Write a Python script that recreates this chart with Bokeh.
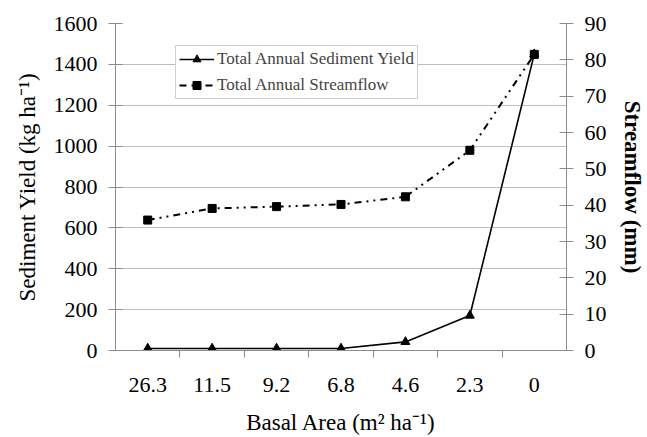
from bokeh.plotting import figure
from bokeh.models import (Range1d, LinearAxis, SingleIntervalTicker, FixedTicker,
                          Legend, LegendItem, ColumnDataSource)
from bokeh.embed import file_html
from bokeh.resources import INLINE

# ---- data ----
basal_area = ["26.3", "11.5", "9.2", "6.8", "4.6", "2.3", "0"]
sediment_yield = [10, 10, 10, 10, 42, 171, 1450]          # kg ha-1
streamflow = [35.9, 39.1, 39.6, 40.2, 42.3, 55.1, 81.5]   # mm

xpos = [i + 0.5 for i in range(len(basal_area))]
src = ColumnDataSource(dict(x=xpos, sed=sediment_yield, sf=streamflow))

FONT = "Liberation Serif"
GRAY = "#8c8c8c"

p = figure(width=647, height=437, output_backend="svg", toolbar_location=None,
           x_range=Range1d(0, len(basal_area)), y_range=Range1d(0, 1600),
           min_border_left=115, min_border_right=76, min_border_top=23,
           min_border_bottom=87, outline_line_color=None)
p.extra_y_ranges = {"sf": Range1d(0, 90)}

# x axis: labels at category centers, ticks at boundaries
p.xaxis.ticker = FixedTicker(ticks=xpos, minor_ticks=list(range(1, len(basal_area))))
p.xaxis.major_label_overrides = {x: lab for x, lab in zip(xpos, basal_area)}
p.xaxis.major_tick_line_color = None
p.xaxis.major_tick_in = 0
p.xaxis.major_tick_out = 7
p.xaxis.minor_tick_line_color = GRAY
p.xaxis.minor_tick_in = 0
p.xaxis.minor_tick_out = 7
p.xaxis.axis_line_color = GRAY
p.xaxis.axis_label = "Basal Area (m\u00b2 ha\u207b\u00b9)"
p.xaxis.major_label_standoff = 20
p.xaxis.axis_label_standoff = 15

# left axis
p.yaxis.ticker = SingleIntervalTicker(interval=200)
p.yaxis.axis_label = "Sediment Yield (kg ha\u207b\u00b9)"
p.yaxis.axis_line_color = GRAY
p.yaxis.major_tick_line_color = GRAY
p.yaxis.major_tick_in = 7
p.yaxis.major_tick_out = 7
p.yaxis.minor_tick_line_color = None
p.yaxis.major_label_standoff = 11
p.yaxis.axis_label_standoff = 11

# right axis
ra = LinearAxis(y_range_name="sf", ticker=SingleIntervalTicker(interval=10),
                axis_label="Streamflow (mm)")
ra.axis_line_color = GRAY
ra.major_tick_line_color = GRAY
ra.major_tick_in = 7
ra.major_tick_out = 7
ra.minor_tick_line_color = None
ra.major_label_standoff = 11
ra.axis_label_standoff = 10
ra.axis_label_text_font_style = "bold"
p.add_layout(ra, "right")

for ax in [p.xaxis[0], p.yaxis[0], ra]:
    ax.major_label_text_font = FONT
    ax.major_label_text_font_size = "22px"
    ax.major_label_text_color = "black"
    ax.axis_label_text_font = FONT
    ax.axis_label_text_font_size = "23px"
    ax.axis_label_text_color = "black"
p.yaxis[0].axis_label_text_font_style = "normal"
p.xaxis[0].axis_label_text_font_style = "normal"

p.xgrid.grid_line_color = None
p.ygrid.grid_line_color = "#bdbdbd"
p.ygrid.grid_line_width = 1.2
p.ygrid.ticker = SingleIntervalTicker(interval=200)

# series
l1 = p.line("x", "sed", source=src, line_color="black", line_width=1.6)
m1 = p.scatter("x", "sed", source=src, marker="triangle", size=9,
               fill_color="black", line_color="black")
l2 = p.line("x", "sf", source=src, y_range_name="sf", line_color="black",
            line_width=2, line_dash="7 5 2 5 2 5")
m2 = p.scatter("x", "sf", source=src, y_range_name="sf", marker="square", size=8,
               fill_color="black", line_color="black")

legend = Legend(items=[
    LegendItem(label="Total Annual Sediment Yield", renderers=[l1, m1]),
    LegendItem(label="Total Annual Streamflow", renderers=[l2, m2]),
], location=(60, 251))
legend.label_text_font = FONT
legend.label_text_font_size = "17px"
legend.glyph_width = 35
legend.glyph_height = 20
legend.label_height = 20
legend.label_standoff = 3
legend.spacing = 6
legend.padding = 3
legend.margin = 0
legend.border_line_color = "#a0a0a0"
legend.border_line_width = 1.2
legend.background_fill_alpha = 1
p.add_layout(legend, "center")

open("out.html", "w").write(file_html(p, INLINE))
